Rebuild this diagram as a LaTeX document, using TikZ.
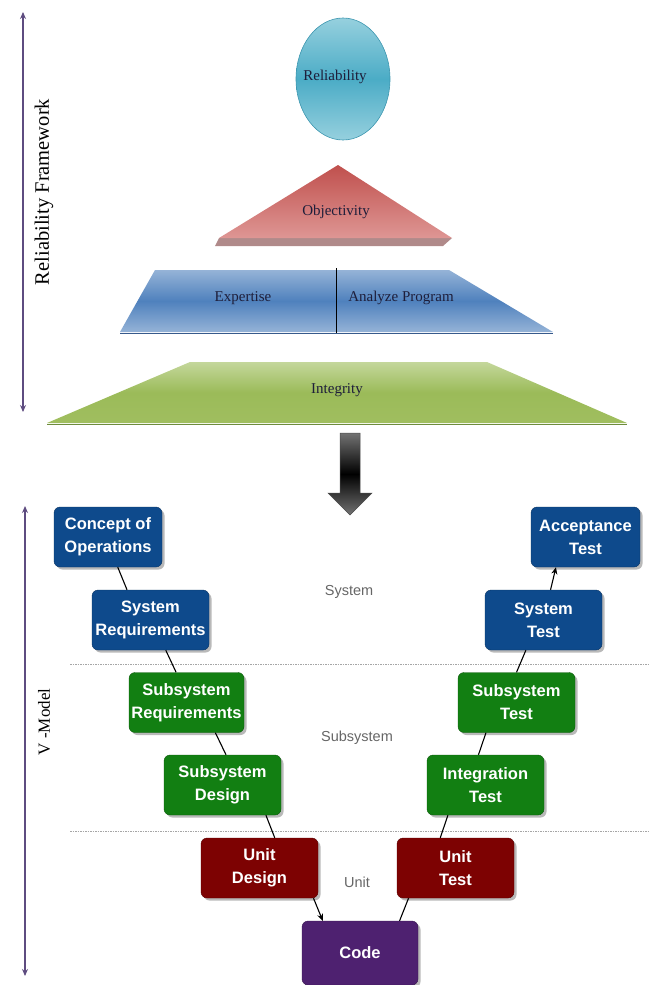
\documentclass[tikz,border=0pt]{standalone}
\usepackage{fontspec}
\setmainfont{Liberation Serif}
\newfontfamily\boxfont{Liberation Sans}
\usetikzlibrary{calc,arrows.meta,shadows}
\definecolor{vblue}{HTML}{0E4A8C}
\definecolor{vgreen}{HTML}{127F12}
\definecolor{vred}{HTML}{7D0202}
\definecolor{vpurple}{HTML}{4E2170}
\definecolor{axiscol}{HTML}{5E4C80}
\definecolor{toptext}{HTML}{1E1E3A}
\definecolor{cylight}{RGB}{150,208,222}
\definecolor{cymid}{RGB}{75,172,198}
\definecolor{cyrim}{RGB}{60,150,175}
\definecolor{redshadow}{RGB}{176,138,138}
\definecolor{redtop}{RGB}{192,80,77}
\definecolor{redbot}{RGB}{222,150,148}
\definecolor{bluelight}{RGB}{149,179,215}
\definecolor{bluemid}{RGB}{79,129,189}
\definecolor{blueedge}{RGB}{55,90,140}
\definecolor{greentop}{RGB}{196,215,155}
\definecolor{greenbot}{RGB}{160,190,95}
\definecolor{greenmid}{RGB}{155,187,89}
\definecolor{greenedge}{RGB}{110,140,60}
\begin{document}
\begin{tikzpicture}[x=1pt,y=-1pt,
  vbox/.style={rounded corners=6pt, minimum height=60pt, text=white,
    font=\boxfont\bfseries\fontsize{16.5}{23}\selectfont, align=center, inner sep=1pt,
    drop shadow={shadow xshift=2.5pt, shadow yshift=-2.5pt, opacity=0.55}},
  lvl/.style={font=\boxfont\fontsize{14.5}{16}\selectfont, text=black!60},
  link/.style={line width=1.1pt, black},
  toplbl/.style={font=\fontsize{15}{17}\selectfont, text=toptext},
  sidelbl/.style={font=\fontsize{20.5}{22}\selectfont, text=black, rotate=90},
  axis/.style={line width=1.3pt, axiscol, {Stealth[length=7pt,width=6pt]}-{Stealth[length=7pt,width=6pt]}},
  sep/.style={black!35, line width=0.8pt, dash pattern=on 1.5pt off 1pt}
]
\useasboundingbox (0,0) rectangle (649,985);

% ---------- Reliability framework ----------
\coordinate (fa1) at (23,12);
\coordinate (fa2) at (23,412);
\draw[axis] (fa1) -- (fa2);
\node[sidelbl] (rf) at (44,192) {Reliability Framework};

% circle
\shade[top color=cylight, bottom color=cylight, middle color=cymid]
  (343,79) ellipse [x radius=47, y radius=61];
\draw[cyrim, line width=0.6pt] (343,79) ellipse [x radius=47, y radius=61];
\node[toplbl] (rel) at (335,77) {Reliability};

% red triangle
\fill[redshadow] (219,238) -- (452,238) -- (443,246) -- (215,246) -- cycle;
\shade[top color=redtop, bottom color=redbot]
  (338,165) -- (452,238) -- (219,238) -- cycle;
\node[toplbl] (obj) at (336,212) {Objectivity};

% blue trapezoid
\shade[top color=bluelight, bottom color=bluelight, middle color=bluemid]
  (155,270) -- (449,270) -- (553,332) -- (120,332) -- cycle;
\draw[blueedge, line width=1pt] (120,333) -- (553,333);
\coordinate (d1) at (336,268);
\coordinate (d2) at (336,333);
\draw[black, line width=0.8pt] (d1) -- (d2);
\node[toplbl] (exp) at (243,298) {Expertise};
\node[toplbl] (ana) at (401,298) {Analyze Program};

% green trapezoid
\shade[top color=greentop, bottom color=greenbot, middle color=greenmid]
  (190,362) -- (487,362) -- (627,423) -- (47,423) -- cycle;
\draw[greenedge, line width=1pt] (47,424) -- (627,424);
\node[toplbl] (int) at (337,390) {Integrity};

% big arrow
\shade[top color=black!55, bottom color=black!55, middle color=black]
  (340,433) -- (360,433) -- (360,493) -- (372,493) -- (350,515) -- (328,493) -- (340,493) -- cycle;
\draw[black!70, line width=0.5pt]
  (340,433) -- (360,433) -- (360,493) -- (372,493) -- (350,515) -- (328,493) -- (340,493) -- cycle;

% ---------- V-model ----------
\coordinate (va1) at (25,506);
\coordinate (va2) at (25,976);
\draw[axis] (va1) -- (va2);
\node[sidelbl, font=\fontsize{17}{19}\selectfont] (vm) at (44,722) {V -Model};

\coordinate (s1a) at (70,664);
\coordinate (s1b) at (649,664);
\coordinate (s2a) at (70,831);
\coordinate (s2b) at (649,831);
\draw[sep] (s1a) -- (s1b);
\draw[sep] (s2a) -- (s2b);

\node[lvl] (lsys) at (349,592) {System};
\node[lvl] (lsub) at (357,738) {Subsystem};
\node[lvl] (lunit) at (357,882) {Unit};

\node[vbox, fill=vblue, draw=vblue!70!black, minimum width=108pt] (conc) at (108,537) {Concept of\\Operations};
\node[vbox, fill=vblue, draw=vblue!70!black, minimum width=117pt] (sysreq) at (150.5,620) {System\\Requirements};
\node[vbox, fill=vgreen, draw=vgreen!70!black, minimum width=115pt] (subreq) at (186.5,702.5) {Subsystem\\Requirements};
\node[vbox, fill=vgreen, draw=vgreen!70!black, minimum width=117pt] (subdes) at (222.5,785) {Subsystem\\Design};
\node[vbox, fill=vred, draw=vred!70!black, minimum width=117pt] (unitdes) at (259.5,868) {Unit\\Design};
\node[vbox, fill=vpurple, draw=vpurple!70!black, minimum width=116pt, minimum height=64pt] (code) at (360,953) {Code};
\node[vbox, fill=vred, draw=vred!70!black, minimum width=117pt] (unittest) at (455.5,868) {Unit\\Test};
\node[vbox, fill=vgreen, draw=vgreen!70!black, minimum width=117pt] (inttest) at (485.5,785) {Integration\\Test};
\node[vbox, fill=vgreen, draw=vgreen!70!black, minimum width=117pt] (subtest) at (516.5,702.5) {Subsystem\\Test};
\node[vbox, fill=vblue, draw=vblue!70!black, minimum width=117pt] (systest) at (543.5,620) {System\\Test};
\node[vbox, fill=vblue, draw=vblue!70!black, minimum width=109pt] (acc) at (585.5,537) {Acceptance\\Test};

\draw[link] ($(conc.south west)!0.59!(conc.south east)$) -- ($(sysreq.north west)!0.30!(sysreq.north east)$);
\draw[link] ($(sysreq.south west)!0.63!(sysreq.south east)$) -- ($(subreq.north west)!0.41!(subreq.north east)$);
\draw[link] ($(subreq.south west)!0.75!(subreq.south east)$) -- ($(subdes.north west)!0.53!(subdes.north east)$);
\draw[link] ($(subdes.south west)!0.87!(subdes.south east)$) -- ($(unitdes.north west)!0.63!(unitdes.north east)$);
\draw[link, -{Stealth[length=7pt,width=6pt]}] ($(unitdes.south west)!0.96!(unitdes.south east)$) -- ($(code.north west)!0.18!(code.north east)$);
\draw[link] ($(code.north west)!0.84!(code.north east)$) -- ($(unittest.south west)!0.10!(unittest.south east)$);
\draw[link] ($(unittest.north west)!0.37!(unittest.north east)$) -- ($(inttest.south west)!0.18!(inttest.south east)$);
\draw[link] ($(inttest.north west)!0.44!(inttest.north east)$) -- ($(subtest.south west)!0.24!(subtest.south east)$);
\draw[link] ($(subtest.north west)!0.50!(subtest.north east)$) -- ($(systest.south west)!0.35!(systest.south east)$);
\draw[link, -{Stealth[length=7pt,width=6pt]}] ($(systest.north west)!0.56!(systest.north east)$) -- ($(acc.south west)!0.23!(acc.south east)$);
\end{tikzpicture}
\end{document}
